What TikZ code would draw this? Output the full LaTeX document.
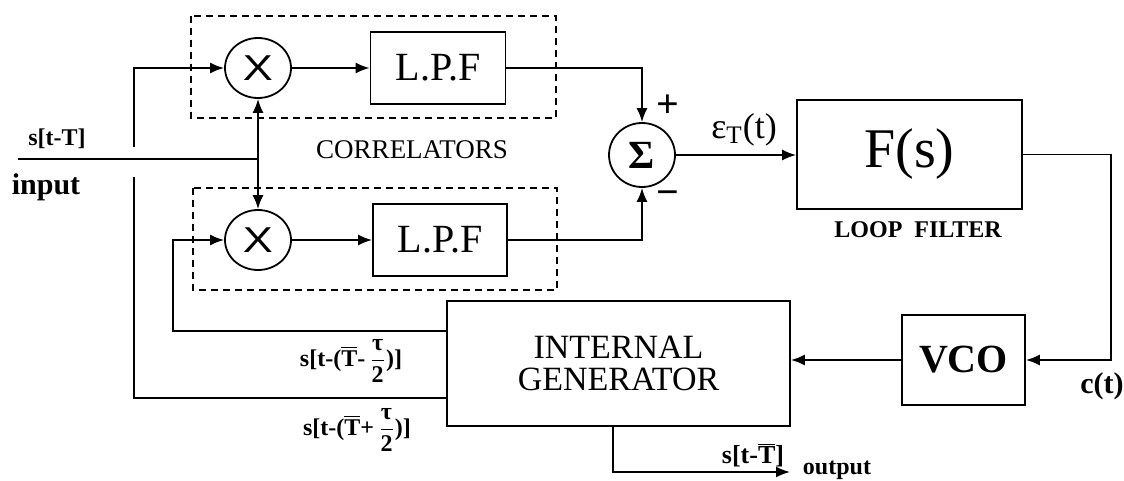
\documentclass[tikz,border=0pt]{standalone}
\usepackage{fontspec}
\setmainfont{Liberation Serif}
\newfontfamily\arialfont{Liberation Sans}
\usepackage{graphicx}
\usetikzlibrary{shapes.geometric,arrows.meta}

\newcommand{\fsz}[1]{\fontsize{#1}{#1}\selectfont}
\newcommand{\delaylab}[1]{\fsz{12}\bfseries s[t-($\overline{\mbox{T}}$#1\,$\displaystyle\frac{\mbox{τ}}{\mbox{2}}$)]}

\begin{document}
\begin{tikzpicture}[x=0.5pt,y=-0.5pt,
    box/.style={draw, line width=0.9pt, inner sep=0pt},
    mult/.style={draw, ellipse, line width=0.9pt, inner sep=0pt, minimum width=33pt, minimum height=30pt},
    wire/.style={line width=0.9pt},
    arr/.style={wire, -{Latex[length=7pt,width=5.5pt]}},
    corr/.style={line width=0.7pt, dash pattern=on 3.5pt off 2.5pt},
    lbl/.style={inner sep=0pt}]
    \useasboundingbox (0,0) rectangle (1124,481);

    % 相关器虚线框
    \draw[corr] (191,16) rectangle (556,118);
    \draw[corr] (193,188) rectangle (557,290);

    % 乘法器与低通滤波器
    \node[mult] (mulA) at (258,68) {\arialfont\fsz{18}\scalebox{1.25}[1]{X}};
    \node[mult] (mulB) at (258,240) {\arialfont\fsz{18}\scalebox{1.25}[1]{X}};
    \node[box, minimum width=67.5pt, minimum height=36pt] (lpfA) at (438,68) {\fsz{20}L.P.F};
    \node[box, minimum width=67pt, minimum height=36pt] (lpfB) at (440,240) {\fsz{20}L.P.F};

    % 求和、环路滤波器、VCO、本地发生器
    \node[mult, minimum width=33pt, minimum height=32pt] (sum) at (642,155) {\fsz{20}\bfseries Σ};
    \node[box, minimum width=112.5pt, minimum height=54.5pt] (loop) at (909.5,154.5) {\fsz{28}F(s)};
    \node[box, minimum width=61.5pt, minimum height=45pt] (vco) at (963.5,360) {\fsz{20}\bfseries VCO};
    \node[box, minimum width=171.5pt, minimum height=62.5pt, align=center,
        font=\fontsize{17}{16}\selectfont] (gen) at (618.5,363.5) {INTERNAL\\GENERATOR};

    % 输入信号
    \coordinate (inL) at (18,159);
    \draw[wire] (inL) -- (inL -| mulA.south);
    \draw[wire, {Latex[length=7pt,width=5.5pt]}-{Latex[length=7pt,width=5.5pt]}] (mulA.south) -- (mulB.north);

    % 本地码反馈（跨线处断开）
    \coordinate (hopA) at (134,147);
    \coordinate (hopB) at (134,177);
    \draw[wire] (gen.west |- 0,398) -| (hopB);
    \draw[arr] (hopA) |- (mulA.west);
    \draw[arr] (gen.west |- 0,331) -| (173,240) -- (mulB.west);

    % 主通路
    \draw[arr] (mulA) -- (lpfA);
    \draw[arr] (mulB) -- (lpfB);
    \draw[arr] (lpfA.east) -| (sum.north);
    \draw[arr] (lpfB.east) -| (sum.south);
    \draw[arr] (sum.east) -- (sum.east -| loop.west);
    \draw[arr] (loop.east) -- ++(88,0) |- (vco.east);
    \draw[arr] (vco.west) -- (vco.west -| gen.east);
    \coordinate (outE) at (790,472);
    \draw[arr] (gen.south -| 613,0) |- (outE);

    % 文字标注
    \node[lbl] (sT) at (57,139) {\fsz{12}\bfseries s[t-T]};
    \node[lbl] (inTxt) at (46,187) {\fsz{15}\bfseries input};
    \node[lbl] (corrTxt) at (412,150) {\fsz{13.5}CORRELATORS};
    \node[lbl] (plus) at (668,106) {\fsz{20}\bfseries +};
    \node[lbl] (minus) at (668,198) {\fsz{20}\bfseries −};
    \node[lbl] (eps) at (744,130) {\fsz{18}ε\textsubscript{T}(t)};
    \node[lbl] (loopTxt) at (918,230) {\fsz{12}\bfseries LOOP\ \ FILTER};
    \node[lbl] (ct) at (1102,386) {\fsz{15}\bfseries c(t)};
    \node[lbl] (late) at (351,361) {\delaylab{-}};
    \node[lbl] (early) at (357,430) {\delaylab{+}};
    \node[lbl] (est) at (753,455) {\fsz{13}\bfseries s[t-$\overline{\mbox{T}}$]};
    \node[lbl] (outTxt) at (837,470) {\fsz{12}\bfseries output};

\end{tikzpicture}
\end{document}
